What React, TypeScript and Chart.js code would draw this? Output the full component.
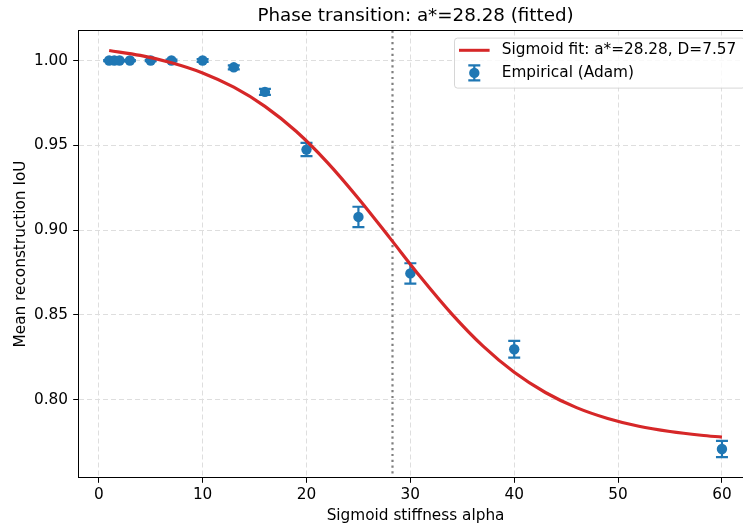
import { useEffect, useRef } from "react";
import { Chart, registerables } from "chart.js";

Chart.register(...registerables);

const chartTitle = "Phase transition: a*=28.28 (fitted)";
const xAxisTitle = "Sigmoid stiffness alpha";
const yAxisTitle = "Mean reconstruction IoU";
const fitLabel = "Sigmoid fit: a*=28.28, D=7.57";
const empiricalLabel = "Empirical (Adam)";
const aStar = 28.28;

// Empirical measurements
const alphaValues = [1, 1.5, 2, 3, 5, 7, 10, 13, 16, 20, 25, 30, 40, 60];
const meanIoU = [1.0, 1.0, 1.0, 1.0, 1.0, 1.0, 1.0, 0.996, 0.9815, 0.9475, 0.9078, 0.8745, 0.8298, 0.771];
const iouErr = [0.0003, 0.0003, 0.0003, 0.0003, 0.0004, 0.0005, 0.0008, 0.0012, 0.0018, 0.0039, 0.006, 0.006, 0.0049, 0.0048];

// Fitted curve
const fitAlpha = [1, 4, 7, 10, 13, 16, 19, 22, 25, 28, 31, 34, 37, 40, 43, 46, 49, 52, 55, 58, 60];
const fitIoU = [1.0059, 1.003, 0.9987, 0.9927, 0.9843, 0.973, 0.9583, 0.94, 0.9187, 0.8956, 0.8722, 0.8505, 0.8316, 0.8162, 0.8043, 0.7954, 0.789, 0.7844, 0.7813, 0.7791, 0.778];

const xTicks = [0, 10, 20, 30, 40, 50, 60];
const yTicks = [0.8, 0.85, 0.9, 0.95, 1.0];

const FONT = '"DejaVu Sans", "Liberation Sans", sans-serif';
const BLUE = "#1f77b4";
const RED = "#d62728";
const FS = 15.3;

const decorPlugin = {
  id: "decor",
  beforeDatasetsDraw(chart: any) {
    const { ctx, chartArea: a, scales } = chart;
    const x = scales.x;
    const y = scales.y;
    ctx.save();
    ctx.beginPath();
    ctx.rect(a.left, a.top, a.right - a.left, a.bottom - a.top);
    ctx.clip();
    // vertical dotted line at a*
    const vx = x.getPixelForValue(aStar);
    ctx.strokeStyle = "#7f7f7f";
    ctx.lineWidth = 2.2;
    ctx.setLineDash([2.2, 3.6]);
    ctx.beginPath();
    ctx.moveTo(vx, a.top);
    ctx.lineTo(vx, a.bottom);
    ctx.stroke();
    ctx.setLineDash([]);
    // error bars
    ctx.strokeStyle = BLUE;
    ctx.lineWidth = 2.2;
    alphaValues.forEach((av, i) => {
      const px = x.getPixelForValue(av);
      const y1 = y.getPixelForValue(meanIoU[i] + iouErr[i]);
      const y2 = y.getPixelForValue(meanIoU[i] - iouErr[i]);
      ctx.beginPath();
      ctx.moveTo(px, y1);
      ctx.lineTo(px, y2);
      ctx.moveTo(px - 6, y1);
      ctx.lineTo(px + 6, y1);
      ctx.moveTo(px - 6, y2);
      ctx.lineTo(px + 6, y2);
      ctx.stroke();
    });
    ctx.restore();
  },
  afterDraw(chart: any) {
    const { ctx, chartArea: a } = chart;
    ctx.save();
    // spines
    ctx.strokeStyle = "#000";
    ctx.lineWidth = 1;
    ctx.strokeRect(a.left, a.top, a.right - a.left, a.bottom - a.top);
    // title
    ctx.fillStyle = "#000";
    ctx.textAlign = "center";
    ctx.textBaseline = "alphabetic";
    ctx.font = `18.3px ${FONT}`;
    const cx = (a.left + a.right) / 2;
    ctx.fillText(chartTitle, cx, a.top - 9.5);
    // x axis title
    ctx.font = `${FS}px ${FONT}`;
    ctx.fillText(xAxisTitle, cx, a.bottom + 42.5);
    // y axis title
    ctx.save();
    ctx.translate(25, (a.top + a.bottom) / 2);
    ctx.rotate(-Math.PI / 2);
    ctx.fillText(yAxisTitle, 0, 0);
    ctx.restore();

    // legend
    const lRight = a.right - 7.6;
    const lTop = a.top + 7.6;
    const lW = 290.5;
    const lH = 50;
    const lLeft = lRight - lW;
    ctx.globalAlpha = 0.8;
    ctx.fillStyle = "#fff";
    ctx.strokeStyle = "#cccccc";
    ctx.lineWidth = 1;
    ctx.beginPath();
    if ((ctx as any).roundRect) {
      (ctx as any).roundRect(lLeft, lTop, lW, lH, 3);
    } else {
      ctx.rect(lLeft, lTop, lW, lH);
    }
    ctx.fill();
    ctx.stroke();
    ctx.globalAlpha = 1;
    const hx0 = lLeft + 4.5;
    const hx1 = hx0 + 30.6;
    const hc = (hx0 + hx1) / 2;
    const r1 = lTop + 12.2;
    const r2 = lTop + 34.8;
    ctx.strokeStyle = RED;
    ctx.lineWidth = 3;
    ctx.beginPath();
    ctx.moveTo(hx0, r1);
    ctx.lineTo(hx1, r1);
    ctx.stroke();
    // errorbar handle
    ctx.strokeStyle = BLUE;
    ctx.lineWidth = 2.2;
    ctx.beginPath();
    ctx.moveTo(hc, r2 - 7.5);
    ctx.lineTo(hc, r2 + 7.5);
    ctx.moveTo(hc - 6, r2 - 7.5);
    ctx.lineTo(hc + 6, r2 - 7.5);
    ctx.moveTo(hc - 6, r2 + 7.5);
    ctx.lineTo(hc + 6, r2 + 7.5);
    ctx.stroke();
    ctx.fillStyle = BLUE;
    ctx.beginPath();
    ctx.arc(hc, r2, 5.2, 0, Math.PI * 2);
    ctx.fill();
    ctx.fillStyle = "#000";
    ctx.textAlign = "left";
    ctx.textBaseline = "middle";
    ctx.font = `${FS}px ${FONT}`;
    ctx.fillText(fitLabel, hx1 + 12.2, r1);
    ctx.fillText(empiricalLabel, hx1 + 12.2, r2);
    ctx.restore();
  },
};

export default function App() {
  const ref = useRef<HTMLCanvasElement | null>(null);
  useEffect(() => {
    if (!ref.current) return;
    const chart = new Chart(ref.current, {
      type: "scatter",
      data: {
        datasets: [
          {
            type: "line",
            label: fitLabel,
            data: fitAlpha.map((v, i) => ({ x: v, y: fitIoU[i] })),
            borderColor: RED,
            backgroundColor: RED,
            borderWidth: 3.2,
            pointRadius: 0,
            showLine: true,
            fill: false,
            cubicInterpolationMode: "monotone",
          } as any,
          {
            type: "scatter",
            label: empiricalLabel,
            data: alphaValues.map((v, i) => ({ x: v, y: meanIoU[i] })),
            backgroundColor: BLUE,
            borderWidth: 0,
            pointRadius: 5.2,
          } as any,
        ],
      },
      options: {
        animation: false,
        responsive: false,
        layout: { padding: { top: 30.5, right: 7.4, left: 0, bottom: 0 } },
        plugins: {
          legend: { display: false },
          tooltip: { enabled: false },
          title: { display: false },
        },
        scales: {
          x: {
            type: "linear",
            min: -1.95,
            max: 62.95,
            afterBuildTicks: (s: any) => {
              s.ticks = xTicks.map((v) => ({ value: v }));
            },
            afterFit: (s: any) => {
              s.height = 49.5;
            },
            ticks: {
              font: { family: FONT, size: FS },
              color: "#000",
              padding: 3,
              maxRotation: 0,
              callback: (v: any) => String(v),
            },
            grid: {
              color: "#dedede",
              lineWidth: 1,
              tickLength: 5.3,
              tickColor: "#000",
              tickWidth: 1,
              tickBorderDash: [],
            },
            border: { display: false, dash: [5, 3] },
          },
          y: {
            type: "linear",
            min: 0.7542,
            max: 1.0177,
            afterBuildTicks: (s: any) => {
              s.ticks = yTicks.map((v) => ({ value: v }));
            },
            afterFit: (s: any) => {
              s.width = 78.5;
            },
            ticks: {
              font: { family: FONT, size: FS },
              color: "#000",
              padding: 5.2,
              callback: (v: any) => Number(v).toFixed(2),
            },
            grid: {
              color: "#dedede",
              lineWidth: 1,
              tickLength: 5.3,
              tickColor: "#000",
              tickWidth: 1,
              tickBorderDash: [],
            },
            border: { display: false, dash: [5, 3] },
          },
        },
      },
      plugins: [decorPlugin],
    });
    return () => chart.destroy();
  }, []);
  return (
    <div
      style={{
        position: "fixed",
        left: 0,
        top: 0,
        width: 743,
        height: 527,
        overflow: "hidden",
        background: "#fff",
      }}
    >
      <canvas ref={ref} width={760} height={527} style={{ display: "block", width: 760, height: 527 }} />
    </div>
  );
}
